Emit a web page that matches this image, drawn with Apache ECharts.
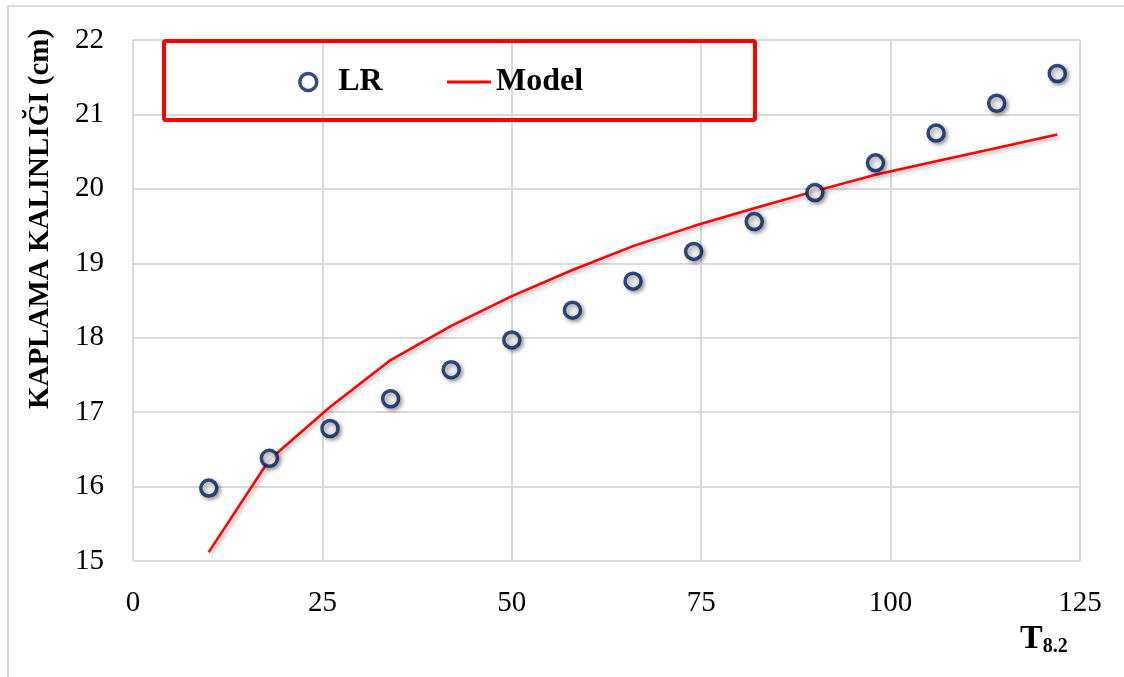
<!DOCTYPE html>
<html><head><meta charset="utf-8">
<script src="https://cdn.jsdelivr.net/npm/echarts@6/dist/echarts.min.js"></script>
<style>html,body{margin:0;padding:0;background:#fff}#c{width:1124px;height:677px}</style>
</head><body><div id="c"></div>
<script>
const xValues = [10, 18, 26, 34, 42, 50, 58, 66, 74, 82, 90, 98, 106, 114, 122];
const lrValues = [15.98, 16.38, 16.78, 17.18, 17.57, 17.97, 18.37, 18.76, 19.16, 19.56, 19.95, 20.35, 20.75, 21.15, 21.55];
const modelValues = [15.12, 16.36, 17.07, 17.70, 18.16, 18.56, 18.91, 19.23, 19.50, 19.74, 19.97, 20.19, 20.37, 20.55, 20.73];
const seriesNames = ['LR', 'Model'];
const yTitle = 'KAPLAMA KALINLIĞI (cm)';

const font = 'Liberation Serif';
const legendText = {fontFamily: font, fontSize: 32, fontWeight: 'bold', color: '#000'};
const chart = echarts.init(document.getElementById('c'));
chart.setOption({
  animation: false,
  backgroundColor: '#fff',
  grid: {left: 133, right: 44, top: 40, bottom: 116},
  xAxis: {
    type: 'value', min: 0, max: 125, interval: 25,
    axisLine: {show: false}, axisTick: {show: false},
    splitLine: {lineStyle: {color: '#d9d9d9', width: 2}},
    axisLabel: {fontFamily: font, fontSize: 29, color: '#000', margin: 28}
  },
  yAxis: {
    type: 'value', min: 15, max: 22, interval: 1,
    axisLine: {show: false}, axisTick: {show: false},
    splitLine: {lineStyle: {color: '#d9d9d9', width: 2}},
    axisLabel: {fontFamily: font, fontSize: 29, color: '#000', margin: 29}
  },
  legend: [
    {
      left: 293, top: 61, itemWidth: 20, itemHeight: 17, itemGap: 0,
      textStyle: Object.assign({padding: [0, 0, 0, 15]}, legendText),
      data: [{name: seriesNames[0], icon: 'circle', itemStyle: {color: '#fff', borderColor: '#002060', borderWidth: 3.5}}]
    },
    {
      left: 442, top: 61, itemWidth: 44, itemHeight: 3, itemGap: 0,
      textStyle: Object.assign({padding: [0, 0, 0, 0]}, legendText),
      data: [{name: seriesNames[1], icon: 'rect', itemStyle: {color: '#ff0000'}}]
    }
  ],
  graphic: [
    {type: 'rect', shape: {x: 8, y: 6, width: 1130, height: 690}, style: {fill: 'none', stroke: '#d9d9d9', lineWidth: 2}, silent: true, z: -1},
    {type: 'rect', shape: {x: 164, y: 41, width: 591, height: 79, r: 2}, style: {fill: 'none', stroke: '#ff0000', lineWidth: 4}, z: 10},
    {type: 'text', x: 41, y: 219, rotation: Math.PI / 2, style: {
      text: yTitle, fill: '#000', fontFamily: font, fontSize: 29, fontWeight: 'bold', align: 'center', verticalAlign: 'middle'
    }},
    {type: 'text', left: 1020, top: 622, style: {
      text: '{a|T}{b|8.2}', fill: '#000',
      rich: {a: {fontFamily: font, fontSize: 34, fontWeight: 'bold'}, b: {fontFamily: font, fontSize: 20, fontWeight: 'bold', padding: [16, 0, 0, 0]}}
    }}
  ],
  series: [
    {
      name: seriesNames[0], type: 'scatter', symbol: 'circle', symbolSize: 16, z: 3,
      data: xValues.map((x, i) => [x, lrValues[i]]),
      itemStyle: {color: '#fff', borderColor: '#002060', borderWidth: 3.5,
        shadowBlur: 4, shadowColor: 'rgba(0,0,0,0.45)', shadowOffsetX: 2, shadowOffsetY: 2}
    },
    {
      name: seriesNames[1], type: 'line', symbol: 'none', z: 2,
      data: xValues.map((x, i) => [x, modelValues[i]]),
      lineStyle: {color: '#ff0000', width: 2.5, shadowBlur: 4, shadowColor: 'rgba(0,0,0,0.35)', shadowOffsetX: 2, shadowOffsetY: 2},
      itemStyle: {color: '#ff0000'}
    }
  ]
});
</script></body></html>
